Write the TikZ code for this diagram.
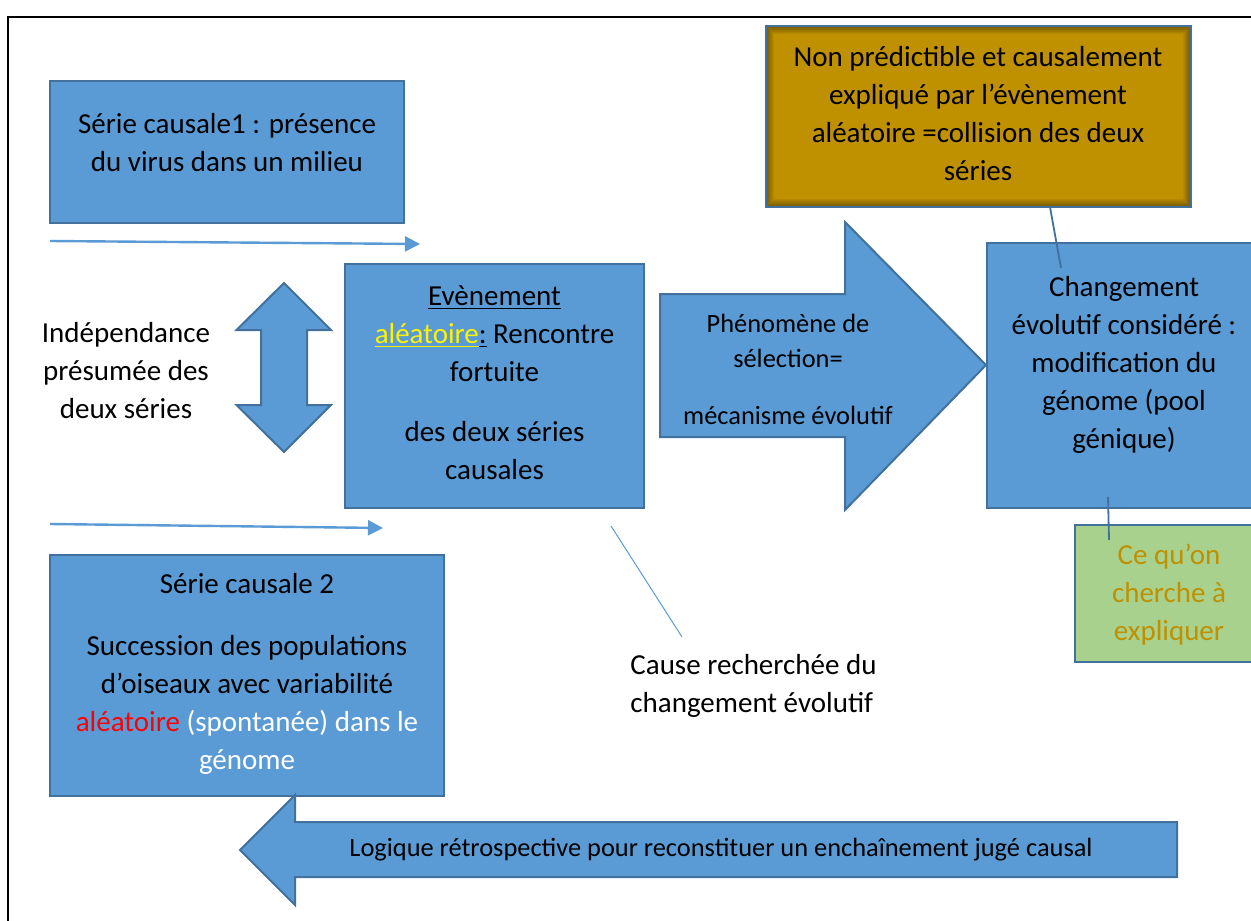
\documentclass[tikz,border=0pt]{standalone}
\usepackage{fontspec}
\setmainfont{Carlito}
\usetikzlibrary{arrows.meta,calc}

\definecolor{boxblue}{HTML}{5B9BD5}
\definecolor{edgeblue}{HTML}{41719C}
\definecolor{ochre}{HTML}{BF9000}
\definecolor{leafgreen}{HTML}{A9D18E}
\newcommand{\bigfnt}{\fontsize{14.5}{19}\selectfont}
\newcommand{\smallfnt}{\fontsize{13.2}{17.5}\selectfont}

\tikzset{
  bluebox/.style={draw=edgeblue, fill=boxblue, line width=1pt, inner sep=0pt},
  txt/.style={align=center, font=\bigfnt, inner sep=0pt},
  thinarrow/.style={draw=boxblue, line width=1.2pt, -{Triangle[length=7.5pt,width=7.5pt]}},
  blockarrow/.style={draw=edgeblue, fill=boxblue, line width=1pt},
}

\begin{document}
\begin{tikzpicture}[x=0.5pt,y=-0.5pt]
  \useasboundingbox[fill=white] (0,0) rectangle (1251,920);
  % Draw frame
  \draw[line width=1.2pt] (8,925) -- (8,17) -- (1256,17);
  % Draw boxes
  \node[bluebox, minimum width=177pt, minimum height=71pt] (serie1) at (227,152) {};
  \node[bluebox, minimum width=149.5pt, minimum height=122pt] (event) at (494.5,386) {};
  \node[bluebox, minimum width=197.25pt, minimum height=120.5pt] (serie2) at (246.75,675.5) {};
  \node[bluebox, minimum width=134pt, minimum height=132.5pt] (change) at (1121,375.5) {};
  \node[bluebox, fill=leafgreen, minimum width=90pt, minimum height=68.5pt] (target) at (1165,593.5) {};
  \node[bluebox, fill=ochre, minimum width=212.5pt, minimum height=90.5pt,
    path picture={
      \foreach \w in {1,2,...,8}
        \draw[black, opacity=0.05, line width=\w pt] (path picture bounding box.south west) rectangle (path picture bounding box.north east);
    }] (nonpred) at (978,116.5) {};
  % Draw block arrows
  \draw[blockarrow] (284,283) -- (331,330) -- (307,330) -- (307,405) -- (331,405) -- (284,452)
    -- (236.5,405) -- (261,405) -- (261,330) -- (236.5,330) -- cycle;
  \draw[blockarrow] (660,294) -- (845,294) -- (845,222) -- (986,365) -- (845,510) -- (845,437) -- (660,437) -- cycle;
  \draw[blockarrow] (240,850) -- (295,795) -- (295,822) -- (1177,822) -- (1177,877) -- (295,877) -- (295,905) -- cycle;
  % Texts
  \node[txt] (serie1txt) at (227,142.5) {Série causale1 : présence\\du virus dans un milieu};
  \node[txt] (indep) at (126,371) {Indépendance\\présumée des\\deux séries};
  \node[txt] (eventtxt) at (494.5,382.5) {\underline{Evènement}\\\textcolor{yellow}{\underline{aléatoire}}\underline{:} Rencontre\\fortuite\\[11pt]des deux séries\\causales};
  \node[txt] (nonpredtxt) at (978,114) {Non prédictible et causalement\\expliqué par l’évènement\\aléatoire =collision des deux\\séries};
  \node[txt, font=\smallfnt] (selecttxt) at (788,369) {Phénomène de\\sélection=\\[11pt]mécanisme évolutif};
  \node[txt] (changetxt) at (1124,364.5) {Changement\\évolutif considéré :\\modification du\\génome (pool\\génique)};
  \node[txt, text=ochre] (targettxt) at (1169,595) {Ce qu’on\\cherche à\\expliquer};
  \node[txt] (serie2txt) at (247,673.5) {Série causale 2\\[12pt]Succession des populations\\d’oiseaux avec variabilité\\\textcolor{red}{aléatoire} \textcolor{white}{(spontanée) dans le}\\\textcolor{white}{génome}};
  \node[txt, align=left, anchor=west] (cause) at (630,686) {Cause recherchée du\\changement évolutif};
  \node[txt, font=\smallfnt] (logique) at (721,850) {Logique rétrospective pour reconstituer un enchaînement jugé causal};
  % Thin arrows and lines
  \coordinate (top1) at (50,241);
  \coordinate (top2) at (420,244);
  \coordinate (bot1) at (50,524);
  \coordinate (bot2) at (383,528);
  \draw[thinarrow] (top1) -- (top2);
  \draw[thinarrow] (bot1) -- (bot2);
  \coordinate (chtop) at (1061,268);
  \draw[edgeblue, line width=0.9pt] ($(nonpred.south west)!0.669!(nonpred.south east)$) -- (chtop);
  \coordinate (chbot) at (1108,497);
  \coordinate (tgtop) at (1109,540);
  \draw[edgeblue, line width=0.9pt] (chbot) -- (tgtop);
  \coordinate (cs1) at (611,526);
  \coordinate (cs2) at (682,637);
  \draw[boxblue, line width=0.5pt] (cs1) -- (cs2);
\end{tikzpicture}
\end{document}
